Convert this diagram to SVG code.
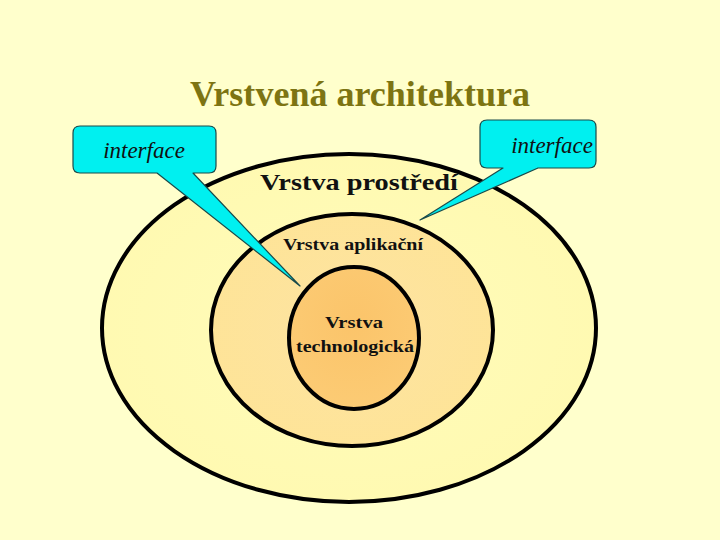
<svg xmlns="http://www.w3.org/2000/svg" width="720" height="540" viewBox="0 0 720 540">
<defs>
<style>
.layer{stroke:#000;stroke-width:4}
.lbl{font-family:"Liberation Serif",serif;font-weight:bold;fill:#111;text-anchor:middle}
.call{fill:#00F0F0;stroke:#1a4a4a;stroke-width:1.2;stroke-linejoin:round}
.ctext{font-family:"Liberation Serif",serif;font-style:italic;font-size:23px;fill:#111;text-anchor:middle}
</style>
<radialGradient id="g1" cx="0.5" cy="0.5" r="0.6">
<stop offset="0" stop-color="#FFFCBA"/><stop offset="1" stop-color="#FFF9B0"/>
</radialGradient>
<radialGradient id="g2" cx="0.5" cy="0.5" r="0.6">
<stop offset="0" stop-color="#FDE3A2"/><stop offset="1" stop-color="#FEE496"/>
</radialGradient>
<radialGradient id="g3" cx="0.5" cy="0.4" r="0.6">
<stop offset="0" stop-color="#FBC46A"/><stop offset="1" stop-color="#FCCB74"/>
</radialGradient>
</defs>
<rect width="720" height="540" fill="#FFFFCC"/>
<text x="360" y="106" class="lbl" font-size="35" style="fill:#7D7412" textLength="340" lengthAdjust="spacingAndGlyphs">Vrstvená architektura</text>
<g id="outer">
<ellipse cx="349" cy="328" rx="247" ry="174" class="layer" fill="url(#g1)"/>
<text x="359" y="190" class="lbl" font-size="24" textLength="198" lengthAdjust="spacingAndGlyphs">Vrstva prostředí</text>
</g>
<g id="middle">
<ellipse cx="352" cy="330" rx="141" ry="116" class="layer" fill="url(#g2)"/>
<text x="353" y="250" class="lbl" font-size="17" textLength="140" lengthAdjust="spacingAndGlyphs">Vrstva aplikační</text>
</g>
<g id="inner">
<ellipse cx="354" cy="338" rx="65" ry="71" class="layer" fill="url(#g3)"/>
<text x="354" y="328" class="lbl" font-size="17" textLength="58" lengthAdjust="spacingAndGlyphs">Vrstva</text>
<text x="355" y="352" class="lbl" font-size="17" textLength="118" lengthAdjust="spacingAndGlyphs">technologická</text>
</g>
<g id="connectors">
<g id="callout-left">
<path class="call" d="M80,126 H209 Q216,126 216,133 V166 Q216,173 209,173 H193 L300,286 L157,173 H80 Q73,173 73,166 V133 Q73,126 80,126 Z"/>
<text x="144" y="158" class="ctext">interface</text>
</g>
<g id="callout-right">
<path class="call" d="M487,120 H589 Q596,120 596,127 V161 Q596,168 589,168 H538 L420,220 L503,168 H487 Q480,168 480,161 V127 Q480,120 487,120 Z"/>
<text x="552" y="153" class="ctext">interface</text>
</g>
</g>
</svg>
